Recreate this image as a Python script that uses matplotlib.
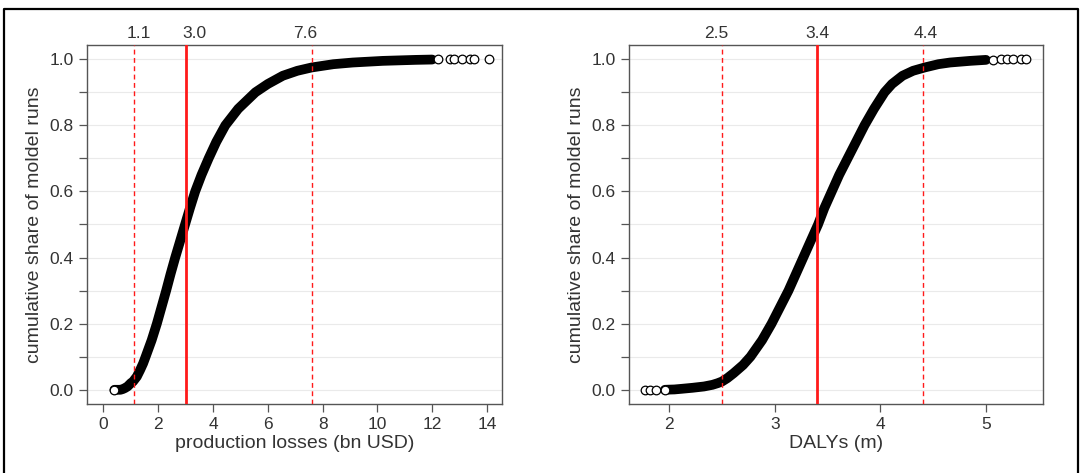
import numpy as np
import matplotlib
matplotlib.use("Agg")
import matplotlib.pyplot as plt
from matplotlib.lines import Line2D

plt.rcParams['font.family'] = ['Liberation Sans', 'DejaVu Sans']

# ---------------- data ----------------
# Left panel: production losses (bn USD) — cumulative share vs value
loss_share = [0.0, 0.0, 0.0, 0.002, 0.005, 0.01, 0.02, 0.025, 0.04, 0.06, 0.08, 0.10,
              0.15, 0.20, 0.25, 0.30, 0.35, 0.40, 0.45, 0.50, 0.55, 0.60, 0.65,
              0.70, 0.75, 0.80, 0.85, 0.90, 0.925, 0.95, 0.965, 0.975, 0.985,
              0.99, 0.995, 0.998, 0.999]
loss_value = [0.40, 0.50, 0.62, 0.70, 0.78, 0.88, 1.00, 1.08, 1.22, 1.34, 1.45, 1.54,
              1.76, 1.95, 2.12, 2.29, 2.45, 2.62, 2.80, 2.98, 3.16, 3.35, 3.58,
              3.84, 4.12, 4.45, 4.92, 5.55, 6.00, 6.55, 7.08, 7.60, 8.40,
              9.10, 10.2, 11.4, 12.0]
loss_tail = [12.2, 12.66, 12.78, 13.09, 13.39, 13.51, 14.06]
loss_tail_share = [0.9992, 0.9993, 0.9994, 0.9995, 0.9996, 0.9998, 1.0]

# Right panel: DALYs (m)
daly_share = [0.0, 0.0005, 0.001, 0.003, 0.006, 0.01, 0.015, 0.02, 0.025, 0.035, 0.05,
              0.075, 0.10, 0.15, 0.20, 0.25, 0.30, 0.35, 0.40, 0.45, 0.50, 0.55,
              0.60, 0.65, 0.70, 0.75, 0.80, 0.85, 0.90, 0.925, 0.95, 0.965,
              0.975, 0.985, 0.99, 0.995, 0.998]
daly_value = [1.96, 2.00, 2.05, 2.12, 2.22, 2.33, 2.41, 2.46, 2.50, 2.55, 2.61,
              2.70, 2.77, 2.88, 2.97, 3.05, 3.13, 3.20, 3.27, 3.34, 3.41, 3.47,
              3.54, 3.61, 3.69, 3.77, 3.85, 3.94, 4.04, 4.11, 4.21, 4.31,
              4.42, 4.55, 4.66, 4.85, 5.00]
daly_low_tail = [1.77, 1.82, 1.88]
daly_low_share = [0.0, 0.0, 0.0]
daly_tail = [5.07, 5.14, 5.20, 5.26, 5.33, 5.38]
daly_tail_share = [0.9990, 0.9992, 0.9994, 0.9996, 0.9998, 1.0]

# Reference lines (2.5 %, median, 97.5 %)
loss_lines = [1.1, 3.0, 7.6]
loss_line_labels = ['1.1', '3.0', '7.6']
loss_label_x = [1.30, 3.32, 7.35]
daly_lines = [2.5, 3.4, 4.4]
daly_line_labels = ['2.5', '3.4', '4.4']
daly_label_x = [2.45, 3.40, 4.43]

loss_xticks = [0, 2, 4, 6, 8, 10, 12, 14]
daly_xticks = [2, 3, 4, 5]
yticks = [0.0, 0.2, 0.4, 0.6, 0.8, 1.0]

# ---------------- figure ----------------
W, H = 1082, 473
fig = plt.figure(figsize=(W / 100, H / 100), dpi=100)
ax1 = fig.add_axes([87 / W, (H - 404) / H, 415 / W, 359 / H])
ax2 = fig.add_axes([629 / W, (H - 404) / H, 414 / W, 359 / H])

TXT = '#333333'
SPINE = '#555555'


def style(ax, xlim, xticks, xlabel):
    ax.set_xlim(*xlim)
    ax.set_ylim(-0.043, 1.043)
    ax.set_xticks(xticks)
    ax.set_xticklabels([str(t) for t in xticks])
    ax.set_yticks(yticks)
    ax.set_yticklabels([f'{t:.1f}' for t in yticks])
    ax.set_yticks(np.round(np.arange(0.1, 1.0, 0.2), 1), minor=True)
    ax.yaxis.grid(True, which='both', color='#eaeaea', lw=0.8, zorder=0)
    ax.set_axisbelow(True)
    for s in ax.spines.values():
        s.set_color(SPINE)
        s.set_linewidth(1.0)
    ax.tick_params(axis='both', which='both', direction='out', color=SPINE,
                   length=5.5, width=0.9, labelsize=12.5, labelcolor=TXT)
    ax.tick_params(axis='y', pad=4)
    ax.tick_params(axis='x', pad=4)
    ax.set_xlabel(xlabel, fontsize=14, color=TXT, labelpad=2)
    ax.set_ylabel('cumulative share of moldel runs', fontsize=14, color=TXT, labelpad=5)


def draw(ax, xv, yv, extra, lines, labels, label_x):
    ax.plot(xv, yv, color='black', lw=7.0, solid_capstyle='round',
            solid_joinstyle='round', zorder=3)
    for ex, ey in extra:
        ax.plot(ex, ey, 'o', mfc='white', mec='black', ms=6.2, mew=0.9,
                ls='none', zorder=3.5)
    ax.plot(xv[:1], yv[:1], 'o', mfc='white', mec='black', ms=6.2, mew=0.9, zorder=3.6)
    ax.axvline(lines[0], color='#ff1a1a', lw=1.0, ls=(0, (3.5, 2.5)), zorder=5)
    ax.axvline(lines[1], color='#ff1a1a', lw=2.0, zorder=5)
    ax.axvline(lines[2], color='#ff1a1a', lw=1.0, ls=(0, (3.5, 2.5)), zorder=5)
    for lx, lab in zip(label_x, labels):
        ax.annotate(lab, xy=(lx, 1.0), xycoords=ax.get_xaxis_transform(),
                    xytext=(0, 3), textcoords='offset points',
                    ha='center', va='bottom', fontsize=12.5, color=TXT)


style(ax1, (-0.6, 14.55), loss_xticks, 'production losses (bn USD)')
draw(ax1, loss_value, loss_share, [(loss_tail, loss_tail_share)],
     loss_lines, loss_line_labels, loss_label_x)

style(ax2, (1.62, 5.54), daly_xticks, 'DALYs (m)')
draw(ax2, daly_value, daly_share,
     [(daly_low_tail, daly_low_share), (daly_tail, daly_tail_share)],
     daly_lines, daly_line_labels, daly_label_x)

# outer frame (left, top, right)
x0, x1, yt = 3.5 / W, 1 - 4 / W, 1 - 9 / H
fig.add_artist(Line2D([x0, x0, x1, x1], [0, yt, yt, 0], transform=fig.transFigure,
                      color='black', lw=1.6))

fig.savefig('out.png', dpi=100)
